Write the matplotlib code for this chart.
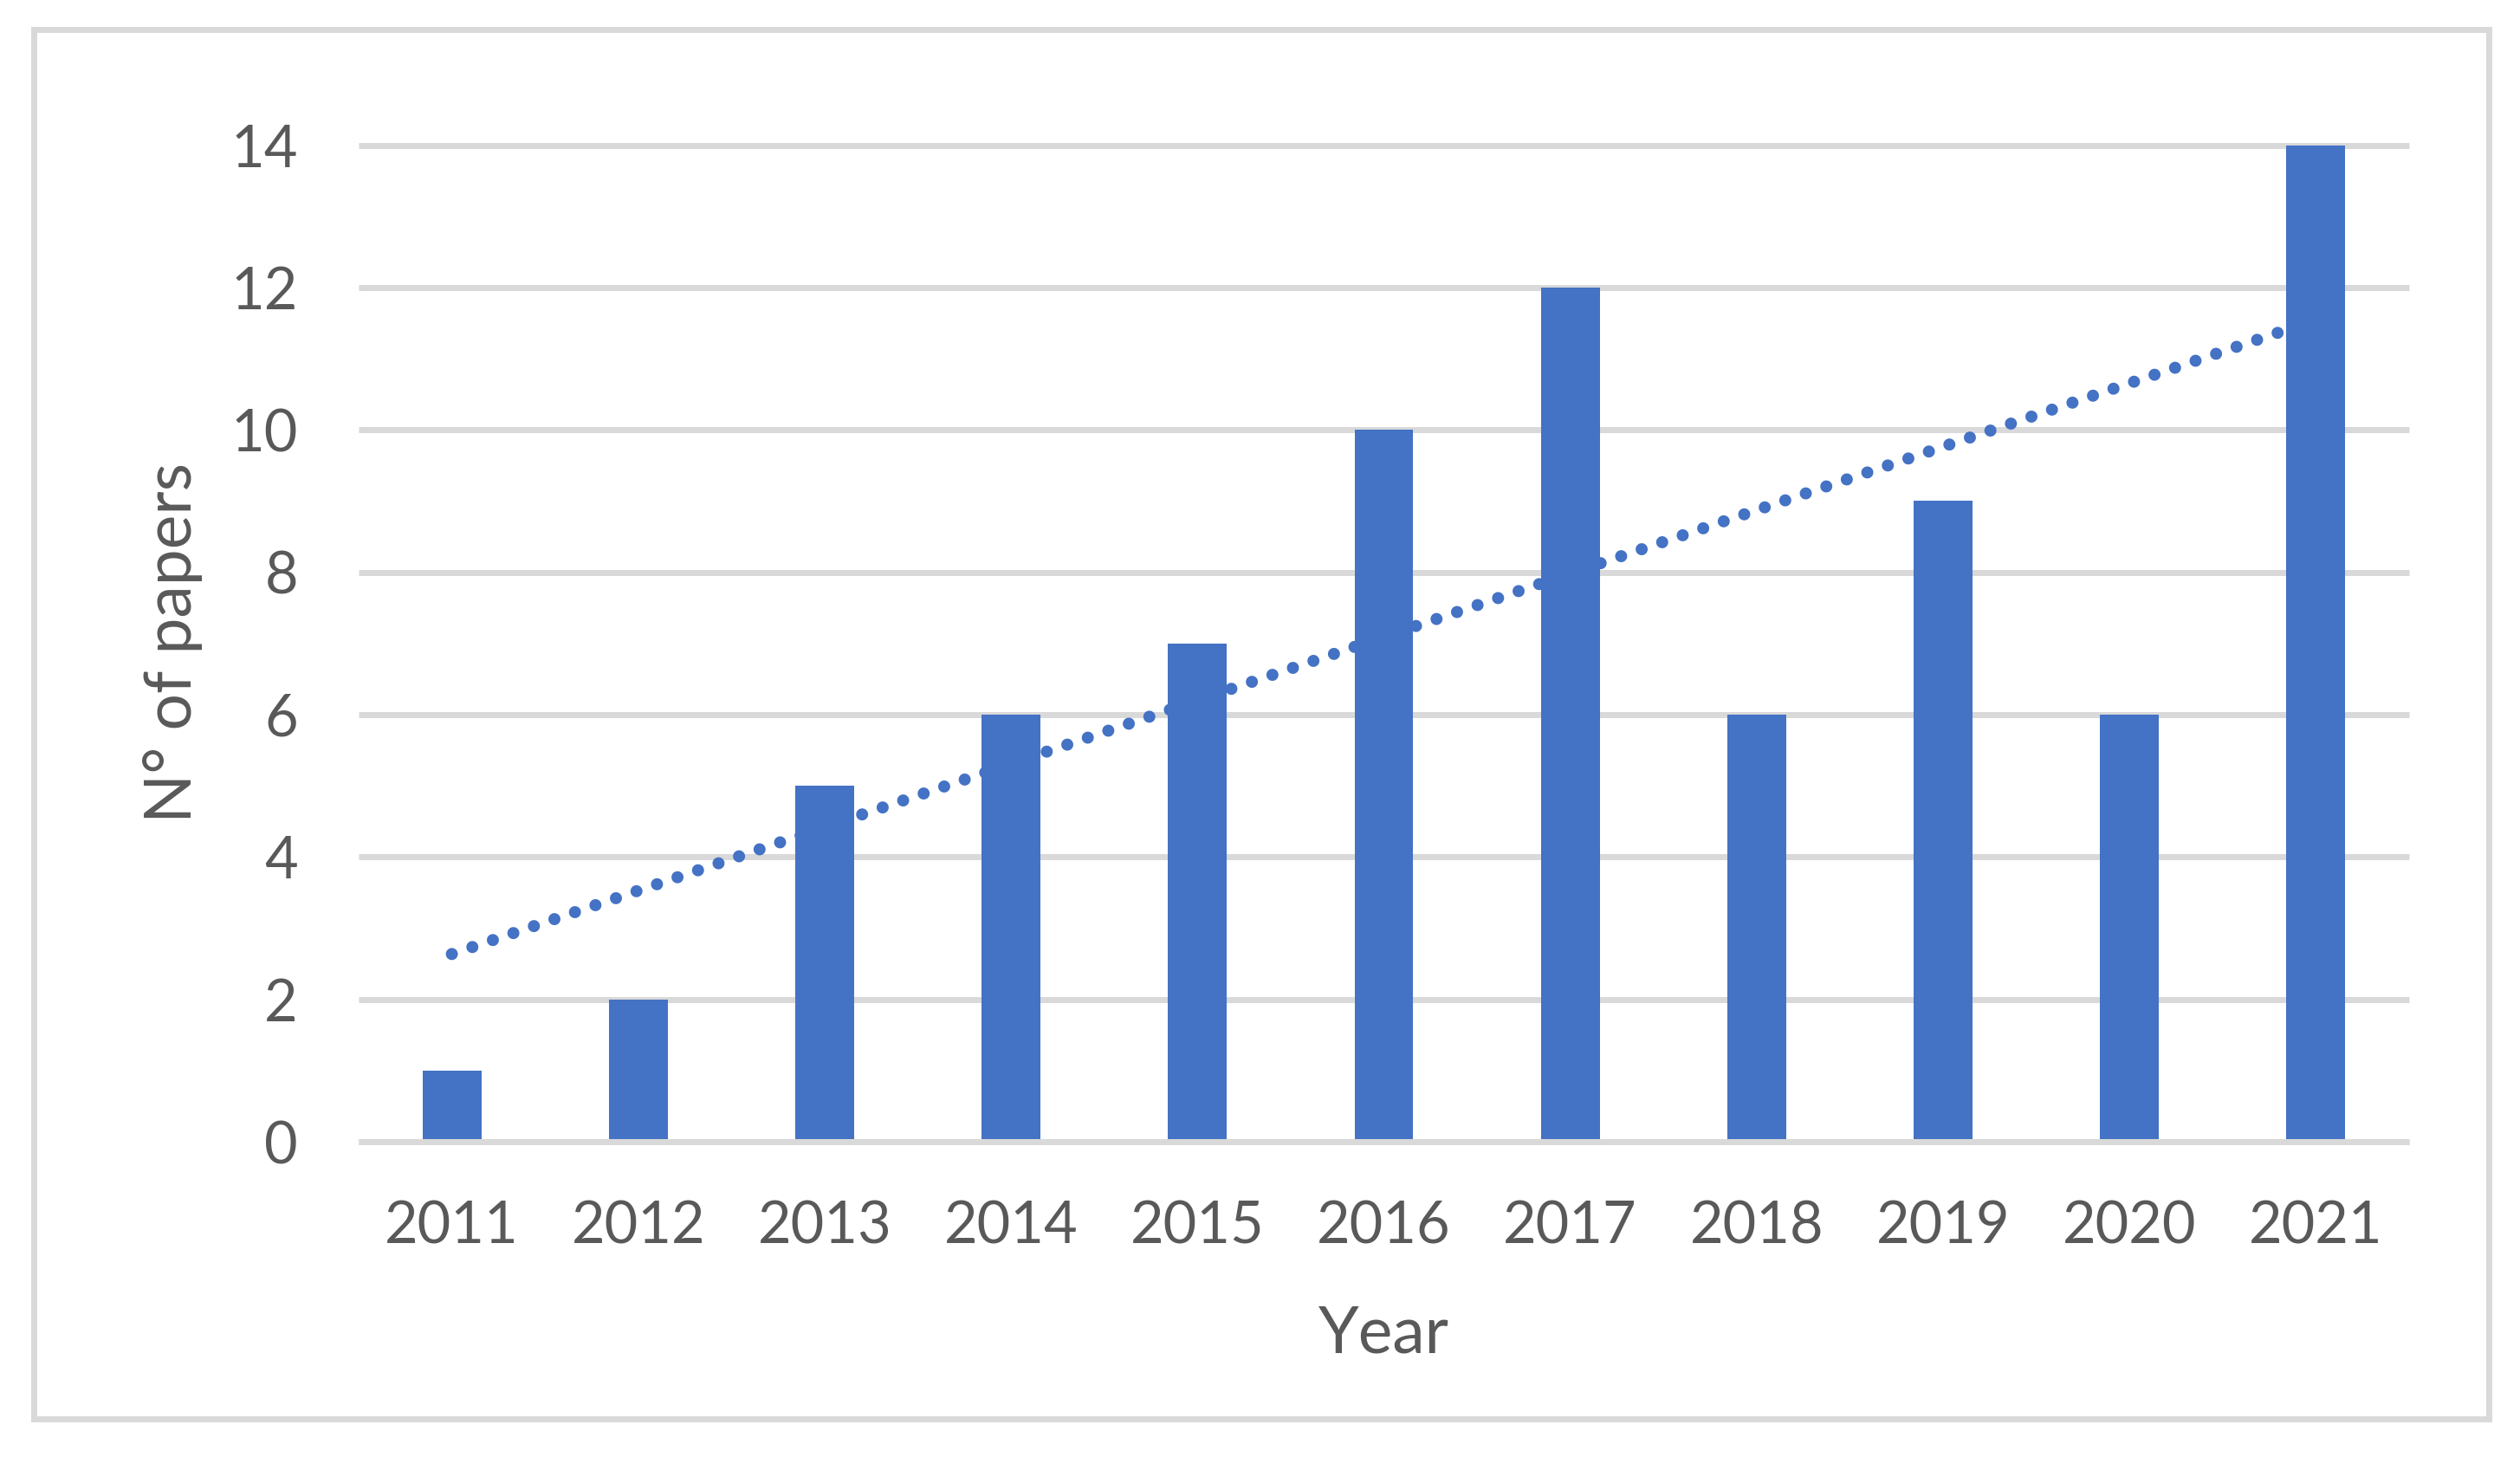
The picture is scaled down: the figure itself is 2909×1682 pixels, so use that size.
import numpy as np
import matplotlib
matplotlib.use("Agg")
import matplotlib.pyplot as plt
from matplotlib.patches import Rectangle

# ---- data ----
years = ["2011", "2012", "2013", "2014", "2015", "2016", "2017", "2018", "2019", "2020", "2021"]
papers = [1, 2, 5, 6, 7, 10, 12, 6, 9, 6, 14]
y_ticks = [0, 2, 4, 6, 8, 10, 12, 14]

W, H = 2909, 1682
DPI = 100
BAR = "#4472C4"
GRID = "#D9D9D9"
TXT = "#595959"
plt.rcParams["font.family"] = ["Lato", "DejaVu Sans"]

def px2pt(p):
    return p * 72.0 / DPI

fig = plt.figure(figsize=(W / DPI, H / DPI), dpi=DPI)
fig.patch.set_facecolor("white")

# outer chart-area border
fig.patches.append(Rectangle((38.5 / W, 1 - 1638 / H), (2872.5 - 38.5) / W, (1638 - 34) / H,
                             transform=fig.transFigure, fill=False, edgecolor=GRID,
                             linewidth=px2pt(7), joinstyle="miter"))

ax_l, ax_r, ax_t, ax_b = 414, 2781, 167.5, 1318
ax = fig.add_axes([ax_l / W, 1 - ax_b / H, (ax_r - ax_l) / W, (ax_b - ax_t) / H])
ax.set_facecolor("none")

x = np.arange(len(years))
ax.bar(x, papers, width=0.316, color=BAR, zorder=2)

# linear trendline (least-squares, as Excel)
coef = np.polyfit(x, papers, 1)
trend = np.polyval(coef, x)
ax.plot(x, trend, color=BAR, linewidth=px2pt(14), linestyle=(0, (0.001, 25 / 14)),
        dash_capstyle="round", solid_capstyle="round", zorder=3)

ax.set_xlim(-0.5, len(years) - 0.5)
ax.set_ylim(0, 14)
ax.set_yticks(y_ticks)
ax.set_yticklabels([str(t) for t in y_ticks])
ax.set_xticks(x)
ax.set_xticklabels(years)

ax.yaxis.grid(True, color=GRID, linewidth=px2pt(7), zorder=1)
ax.set_axisbelow(True)
for gl in ax.get_ygridlines():
    gl.set_clip_on(False)
    gl.set_solid_capstyle("butt")

for s in ["top", "right", "left"]:
    ax.spines[s].set_visible(False)
ax.spines["bottom"].set_color(GRID)
ax.spines["bottom"].set_linewidth(px2pt(7))
ax.spines["bottom"].set_zorder(4)
ax.spines["bottom"].set_capstyle("butt")

ax.tick_params(axis="both", length=0, colors=TXT, labelsize=48)
ax.tick_params(axis="x", pad=px2pt(68))
ax.tick_params(axis="y", pad=px2pt(70))

fig.text((ax_l + ax_r) / 2 / W, 1 - 1562 / H, "Year", ha="center", va="baseline",
         fontsize=54, color=TXT)
fig.text(200 / W, 1 - 742 / H, "N° of papers", ha="center", va="center",
         rotation=90, fontsize=54, color=TXT)

fig.savefig("out.png", dpi=DPI, facecolor="white")
